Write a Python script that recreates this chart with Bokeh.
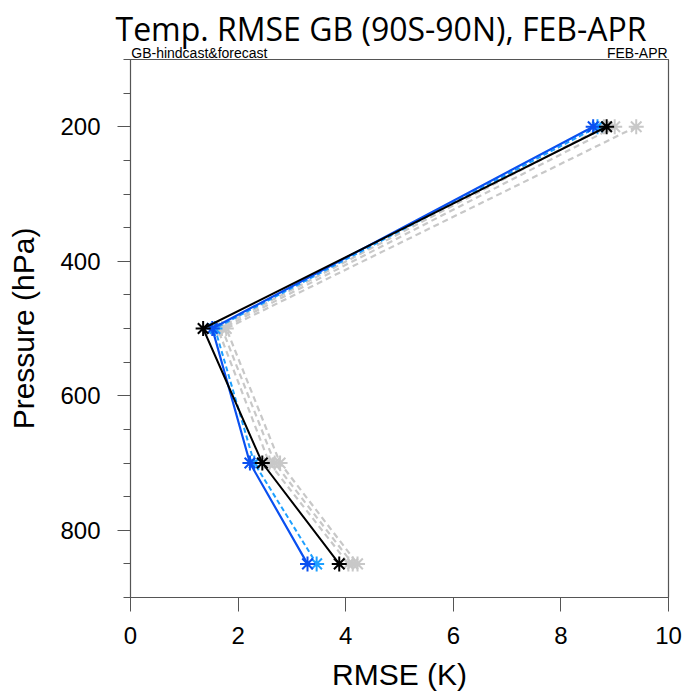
from bokeh.plotting import figure
from bokeh.models import Range1d, FixedTicker, LinearAxis, Title
from bokeh.embed import file_html
from bokeh.resources import INLINE

levels = [200, 500, 700, 850]
black_solid = [8.85, 1.35, 2.45, 3.88]
blue_solid = [8.6, 1.52, 2.22, 3.29]
lblue_dash = [8.68, 1.57, 2.3, 3.46]
gray1 = [8.8, 1.62, 2.58, 4.05]
gray2 = [9.0, 1.7, 2.68, 4.13]
gray3 = [9.4, 1.78, 2.78, 4.22]

x_ticks = [0, 2, 4, 6, 8, 10]
y_ticks = [200, 400, 600, 800]
y_minor = list(range(100, 901, 50))

title_text = "Temp. RMSE GB (90S-90N), FEB-APR"
left_sub = "GB-hindcast&forecast"
right_sub = "FEB-APR"
# where the two small header strings sit along the top edge (x in axis units)
sub_pos = [1.28, 9.42]

FONT = "Liberation Sans"

p = figure(width=683, height=693, output_backend="svg", toolbar_location=None,
           title=None, x_range=Range1d(0, 10), y_range=Range1d(900, 100),
           min_border_left=130, min_border_right=15, min_border_top=59, min_border_bottom=95)
p.grid.visible = False
p.outline_line_color = "#555555"
p.outline_line_width = 1.2
p.background_fill_color = "white"
p.border_fill_color = "white"

for ax in (p.xaxis[0], p.yaxis[0]):
    ax.axis_line_color = "#555555"
    ax.major_tick_line_color = "#555555"
    ax.minor_tick_line_color = "#555555"
    ax.major_tick_in = 0
    ax.minor_tick_in = 0
    ax.major_label_text_font = FONT
    ax.major_label_text_font_size = "24px"
    ax.major_label_text_color = "black"
    ax.axis_label_text_font = FONT
    ax.axis_label_text_font_size = "30px"
    ax.axis_label_text_font_style = "normal"
    ax.axis_label_text_color = "black"

p.xaxis.ticker = FixedTicker(ticks=x_ticks, minor_ticks=[])
p.xaxis.major_tick_out = 14
p.xaxis.major_label_standoff = 15
p.xaxis.axis_label = "RMSE (K)"
p.xaxis.axis_label_standoff = 11

p.yaxis.ticker = FixedTicker(ticks=y_ticks, minor_ticks=y_minor)
p.yaxis.major_tick_out = 13
p.yaxis.minor_tick_out = 7
p.yaxis.major_label_standoff = 17
p.yaxis.axis_label = "Pressure (hPa)"
p.yaxis.axis_label_standoff = 17

# header strings just above the frame, as labels of a bare top axis
top = LinearAxis(ticker=FixedTicker(ticks=sub_pos, minor_ticks=[]),
                 major_label_overrides={sub_pos[0]: left_sub, sub_pos[1]: right_sub},
                 axis_line_color=None, major_tick_line_color=None, minor_tick_line_color=None,
                 major_tick_in=0, major_tick_out=0, minor_tick_in=0, minor_tick_out=0,
                 major_label_standoff=-1,
                 major_label_text_font=FONT, major_label_text_font_size="14px",
                 major_label_text_color="black")
p.add_layout(top, "above")

p.add_layout(Title(text=title_text, align="left", offset=-15, standoff=-17,
                   text_font="Open Sans", text_font_size="32px",
                   text_font_style="normal", text_color="black"), "above")

star = 15
for g in (gray3, gray2, gray1):
    p.line(g, levels, line_color="#c8c8c8", line_width=2.2, line_dash="6 4")
    p.scatter(g, levels, marker="asterisk", size=star, line_color="#c8c8c8", line_width=2)

p.line(lblue_dash, levels, line_color="#1ea0ff", line_width=2, line_dash="5 3")
p.scatter(lblue_dash, levels, marker="asterisk", size=star, line_color="#1ea0ff", line_width=2)
p.line(blue_solid, levels, line_color="#0a50f0", line_width=2.2)
p.scatter(blue_solid, levels, marker="asterisk", size=star, line_color="#0a50f0", line_width=2)
p.line(black_solid, levels, line_color="black", line_width=2)
p.scatter(black_solid, levels, marker="asterisk", size=star, line_color="black", line_width=2)

open("out.html", "w").write(file_html(p, INLINE))
